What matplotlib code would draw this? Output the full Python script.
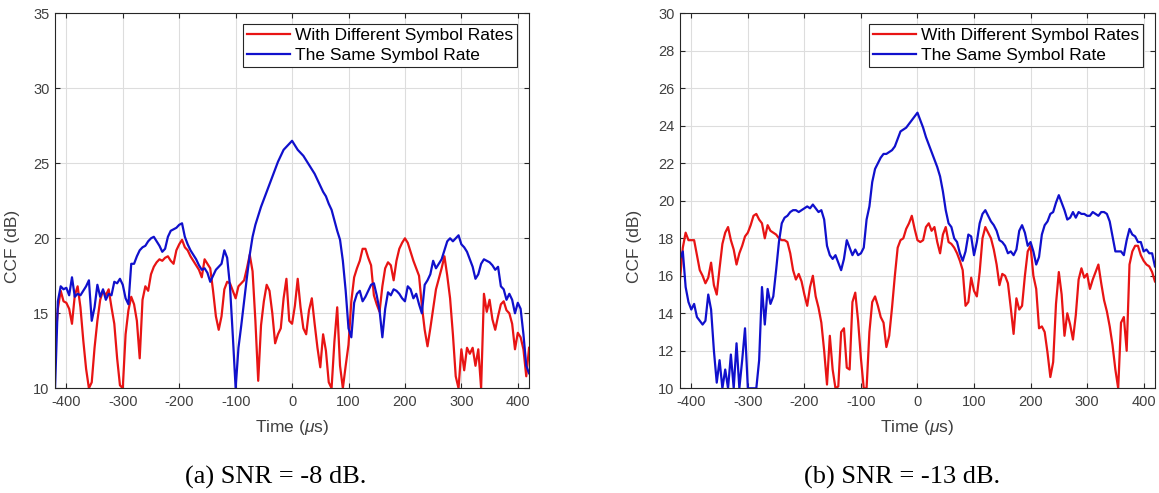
import numpy as np
import matplotlib
matplotlib.use('Agg')
import matplotlib.pyplot as plt

plt.rcParams['font.family'] = ['Liberation Sans', 'DejaVu Sans']
plt.rcParams['axes.unicode_minus'] = False
plt.rcParams['mathtext.fontset'] = 'custom'
plt.rcParams['mathtext.it'] = 'Liberation Sans:italic'

# time axis, 5 us steps from -420 to 420
time_us = np.arange(-420, 425, 5)

# (a) SNR = -8 dB
red_a = [12.8, 15.3, 16.5, 15.8, 15.7, 15.3, 14.3, 16.2, 16.8, 15.4,
         13.2, 11.3, 10.0, 10.4, 12.7, 14.5, 15.9, 16.5, 16.2, 16.6,
         15.4, 14.3, 12.0, 10.2, 10.0, 13.6, 15.2, 16.1, 15.6, 14.5,
         12.0, 15.9, 16.8, 16.5, 17.6, 18.1, 18.4, 18.6, 18.5, 18.7,
         18.8, 18.5, 18.3, 19.2, 19.6, 19.9, 19.4, 19.2, 18.8, 18.5,
         18.2, 17.9, 17.4, 18.6, 18.3, 18.0, 16.5, 14.8, 13.9, 14.8,
         16.6, 17.1, 17.0, 16.5, 16.0, 16.8, 17.0, 17.2, 18.0, 18.9,
         17.8, 14.5, 10.5, 14.2, 15.8, 16.9, 16.5, 15.0, 13.0, 13.6,
         14.0, 16.0, 17.3, 14.5, 14.3, 15.5, 17.3, 15.4, 14.0, 13.6,
         15.2, 16.0, 14.3, 12.7, 11.4, 13.6, 12.5, 10.4, 10.0, 13.1,
         15.4, 11.5, 10.0, 11.5, 12.9, 15.8, 17.4, 18.0, 18.5, 19.3,
         19.3, 18.7, 18.2, 16.2, 15.6, 15.1, 16.8, 18.0, 18.4, 18.2,
         17.2, 18.5, 19.3, 19.7, 20.0, 19.7, 19.1, 18.5, 18.0, 17.5,
         15.5, 13.9, 12.8, 14.0, 15.3, 16.6, 17.3, 18.0, 18.8, 17.5,
         16.0, 13.6, 10.8, 10.0, 12.6, 11.2, 12.7, 12.3, 12.7, 11.5,
         12.6, 10.0, 16.3, 15.1, 15.9, 14.6, 13.9, 14.8, 15.6, 15.8,
         15.2, 15.0, 14.3, 12.6, 13.7, 13.4, 12.6, 10.8, 12.7]
blue_a = [10.0, 15.8, 16.8, 16.6, 16.7, 16.2, 17.4, 16.1, 16.3, 16.2,
          16.5, 16.8, 17.2, 14.5, 15.4, 16.9, 16.1, 16.6, 15.9, 16.3,
          16.2, 17.1, 17.0, 17.3, 16.9, 16.0, 15.6, 18.3, 18.3, 18.8,
          19.2, 19.4, 19.5, 19.8, 20.0, 20.1, 19.8, 19.5, 19.1, 19.3,
          20.1, 20.5, 20.6, 20.7, 20.9, 21.0, 20.1, 19.6, 19.2, 18.9,
          18.6, 18.2, 17.9, 18.0, 17.7, 17.1, 17.5, 17.9, 18.1, 18.3,
          19.2, 18.7, 16.8, 13.5, 10.0, 12.7, 14.2, 15.8, 17.4, 18.9,
          20.1, 20.9, 21.5, 22.1, 22.6, 23.1, 23.6, 24.1, 24.6, 25.1,
          25.5, 25.9, 26.1, 26.3, 26.5, 26.2, 25.9, 25.7, 25.5, 25.2,
          24.9, 24.6, 24.3, 23.9, 23.5, 23.1, 22.8, 22.3, 21.9, 21.2,
          20.5, 19.9, 18.5, 16.5, 14.0, 13.4, 15.7, 16.3, 16.5, 15.8,
          16.1, 16.5, 16.9, 17.0, 16.2, 15.2, 13.4, 15.3, 16.4, 16.2,
          16.6, 16.5, 16.3, 16.0, 15.8, 16.8, 16.6, 16.0, 16.3, 15.6,
          15.0, 16.9, 17.2, 17.6, 18.5, 18.0, 18.3, 18.6, 19.2, 19.8,
          20.0, 19.8, 20.0, 20.2, 19.6, 19.4, 19.1, 18.6, 18.1, 17.3,
          17.6, 18.3, 18.6, 18.5, 18.4, 18.2, 17.9, 18.1, 16.8, 16.6,
          15.9, 16.3, 15.9, 15.0, 15.7, 15.3, 13.6, 11.5, 11.0]

# (b) SNR = -13 dB
red_b = [15.8, 17.5, 18.3, 17.9, 17.9, 17.9, 17.1, 16.3, 16.0, 15.6,
         15.9, 16.7, 15.5, 15.0, 16.4, 17.7, 18.3, 18.6, 17.9, 17.4,
         16.6, 17.2, 17.6, 18.1, 18.3, 18.7, 19.2, 19.3, 19.0, 18.8,
         18.0, 18.7, 18.4, 18.3, 18.2, 18.0, 17.9, 17.9, 17.8, 17.2,
         16.3, 15.8, 16.1, 15.7, 15.0, 14.4, 15.4, 16.0, 14.9, 14.3,
         13.5, 12.0, 10.2, 12.8, 11.0, 10.0, 10.1, 13.0, 13.2, 11.1,
         11.0, 14.6, 15.1, 13.6, 11.6, 10.0, 10.0, 13.0, 14.6, 14.9,
         14.4, 13.8, 13.5, 12.2, 12.8, 14.3, 16.0, 17.5, 17.9, 18.0,
         18.5, 18.8, 19.2, 18.5, 17.9, 17.8, 17.9, 18.6, 18.8, 18.4,
         18.6, 17.8, 17.2, 18.2, 18.6, 17.8, 17.7, 17.5, 17.2, 16.8,
         16.3, 14.4, 14.6, 15.9, 15.2, 14.9, 16.2, 18.0, 18.6, 18.3,
         18.0, 17.4, 16.6, 15.5, 16.1, 16.0, 15.6, 14.3, 12.9, 14.8,
         14.2, 14.4, 16.0, 17.3, 17.6, 16.0, 15.3, 13.2, 13.3, 13.0,
         11.9, 10.6, 11.4, 14.5, 16.2, 15.0, 12.8, 14.0, 13.4, 12.6,
         13.9, 15.8, 16.4, 15.9, 16.1, 15.3, 15.8, 16.2, 16.6, 15.6,
         14.7, 14.1, 13.3, 12.3, 11.0, 10.0, 13.5, 13.8, 12.0, 16.6,
         17.3, 17.6, 17.6, 17.1, 16.8, 16.6, 16.5, 16.2, 15.7]
blue_b = [16.9, 17.3, 15.4, 14.6, 14.2, 14.5, 13.8, 13.6, 13.4, 13.6,
          15.0, 14.2, 12.0, 10.3, 11.5, 10.0, 11.0, 10.0, 11.8, 10.0,
          12.4, 10.0, 11.5, 13.2, 10.0, 10.0, 10.0, 10.0, 11.5, 15.4,
          13.4, 15.3, 14.5, 14.9, 16.3, 17.8, 18.8, 19.1, 19.2, 19.4,
          19.5, 19.5, 19.4, 19.5, 19.6, 19.7, 19.6, 19.8, 19.6, 19.4,
          19.5, 19.0, 17.6, 17.1, 16.9, 17.1, 16.7, 16.3, 16.9, 17.9,
          17.5, 17.1, 17.4, 17.1, 17.2, 17.5, 19.0, 19.7, 21.0, 21.7,
          22.0, 22.3, 22.5, 22.5, 22.6, 22.7, 22.9, 23.3, 23.7, 23.8,
          23.9, 24.1, 24.3, 24.5, 24.7, 24.3, 23.9, 23.4, 23.0, 22.6,
          22.2, 21.8, 21.3, 20.5, 19.5, 18.8, 18.6, 18.0, 17.8, 17.2,
          16.8, 17.3, 18.2, 18.1, 17.1, 17.8, 18.8, 19.3, 19.5, 19.2,
          18.9, 18.7, 18.4, 17.9, 17.8, 17.6, 17.2, 17.3, 17.1, 17.4,
          18.4, 18.7, 18.3, 17.6, 17.8, 17.3, 16.6, 17.0, 18.2, 18.7,
          18.9, 19.3, 19.4, 19.9, 20.3, 19.9, 19.5, 19.0, 19.1, 19.4,
          19.1, 19.4, 19.3, 19.3, 19.2, 19.2, 19.4, 19.3, 19.2, 19.4,
          19.4, 19.3, 18.9, 18.1, 17.3, 17.3, 17.3, 17.1, 17.9, 18.5,
          18.2, 18.1, 17.8, 17.8, 17.3, 17.4, 17.2, 17.2, 16.5]

labels = ['With Different Symbol Rates', 'The Same Symbol Rate']
x_ticks = [-400, -300, -200, -100, 0, 100, 200, 300, 400]
captions = ['(a) SNR = -8 dB.', '(b) SNR = -13 dB.']

panels = [
    dict(red=red_a, blue=blue_a, ylim=(10, 35), yticks=np.arange(10, 36, 5),
         rect=[0.0475, 0.2124, 0.409, 0.7606], cap_x=0.238, ylab_x=0.017),
    dict(red=red_b, blue=blue_b, ylim=(10, 30), yticks=np.arange(10, 31, 2),
         rect=[0.5867, 0.2124, 0.4098, 0.7606], cap_x=0.778, ylab_x=0.554),
]

fig = plt.figure(figsize=(11.59, 4.93), dpi=100)

for i, p in enumerate(panels):
    ax = fig.add_axes(p['rect'])
    ax.plot(time_us, p['red'], color='#e81414', lw=1.6, label=labels[0])
    ax.plot(time_us, p['blue'], color='#1010cc', lw=1.6, label=labels[1])
    ax.set_xlim(-420, 420)
    ax.set_ylim(*p['ylim'])
    ax.set_xticks(x_ticks)
    ax.set_yticks(p['yticks'])
    ax.grid(True, color='#dddddd', lw=0.8)
    ax.set_axisbelow(True)
    ax.tick_params(direction='in', length=3.5, width=0.8, colors='#262626',
                   labelcolor='#404040', labelsize=10.5, top=True, right=True)
    ax.tick_params(axis='x', pad=5)
    ax.tick_params(axis='y', pad=4)
    for s in ax.spines.values():
        s.set_color('#262626')
        s.set_linewidth(0.8)
    ax.set_xlabel(r'Time ($\mu$s)', fontsize=12.5, color='#404040', labelpad=6)
    ax.set_ylabel('CCF (dB)', fontsize=12.5, color='#404040')
    ax.yaxis.set_label_coords(p['ylab_x'], 0.5, transform=fig.transFigure)
    leg = ax.legend(loc='upper right', bbox_to_anchor=(0.975, 0.972),
                    borderaxespad=0, fontsize=12.5, fancybox=False,
                    framealpha=1, edgecolor='#262626', borderpad=0.25,
                    labelspacing=0.25, handlelength=2.5, handletextpad=0.25)
    leg.get_frame().set_linewidth(0.8)
    fig.text(p['cap_x'], 0.032, captions[i], fontsize=19, ha='center',
             va='center', family='Liberation Serif')

plt.savefig('out.png', dpi=100)
